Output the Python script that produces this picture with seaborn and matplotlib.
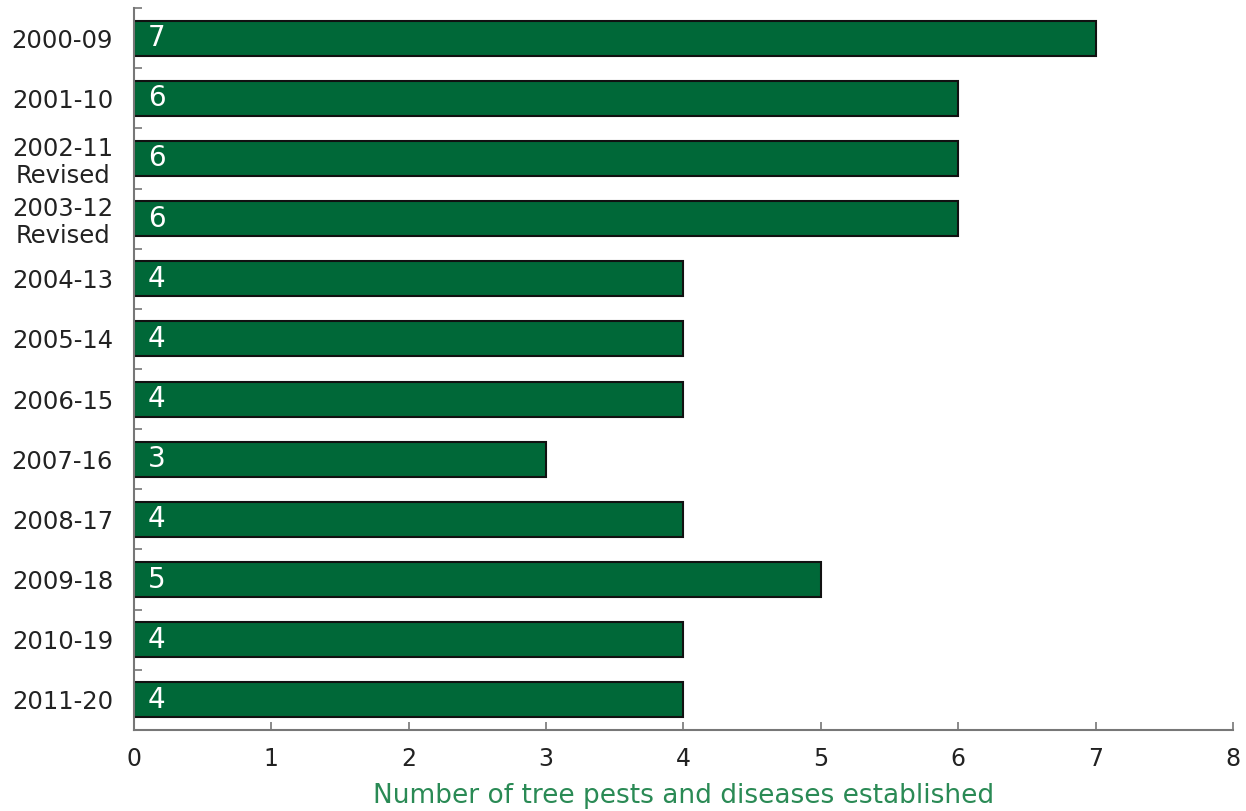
import matplotlib
matplotlib.use("Agg")
import matplotlib.pyplot as plt
import seaborn as sns
import pandas as pd
import numpy as np

periods = ["2000-09", "2001-10", "2002-11\nRevised", "2003-12\nRevised", "2004-13",
           "2005-14", "2006-15", "2007-16", "2008-17", "2009-18", "2010-19", "2011-20"]
counts = [7, 6, 6, 6, 4, 4, 4, 3, 4, 5, 4, 4]
x_ticks = [0, 1, 2, 3, 4, 5, 6, 7, 8]

df = pd.DataFrame({"period": periods, "count": counts})

sns.set_theme(style="white")
plt.rcParams["font.family"] = ["DejaVu Sans"]

fig = plt.figure(figsize=(12.46, 8.11), dpi=100)
ax = fig.add_axes([0.1075, 0.0999, 0.8821, 0.8902])

sns.barplot(data=df, x="count", y="period", orient="h", color="#006838",
            saturation=1, width=0.58, edgecolor="#111111", linewidth=1.5, ax=ax)

for i, v in enumerate(counts):
    ax.text(0.1, i, str(v), color="white", fontsize=20, va="center", ha="left")

ax.set_xlim(0, 8)
ax.set_ylim(len(periods) - 0.5, -0.5)
ax.set_xticks(x_ticks)
ax.set_xticklabels([str(t) for t in x_ticks], fontsize=17, color="#222222")
ax.tick_params(axis="x", which="major", bottom=True, direction="in", length=6,
               width=1.2, color="#777777", pad=12)

ax.set_yticks(range(len(periods)))
ax.set_yticklabels(periods, fontsize=17.5, color="#222222", multialignment="center",
                   linespacing=1.15)
ax.tick_params(axis="y", which="major", left=True, length=0, pad=15)
ax.set_yticks(np.arange(-0.5, len(periods), 1.0), minor=True)
ax.tick_params(axis="y", which="minor", left=True, direction="in", length=6,
               width=1.2, color="#777777")

for s in ["top", "right"]:
    ax.spines[s].set_visible(False)
for s in ["left", "bottom"]:
    ax.spines[s].set_color("#777777")
    ax.spines[s].set_linewidth(1.5)

ax.set_ylabel("")
ax.set_xlabel("Number of tree pests and diseases established", fontsize=19,
              color="#2A8A55", labelpad=9)

fig.savefig("out.png", dpi=100)
